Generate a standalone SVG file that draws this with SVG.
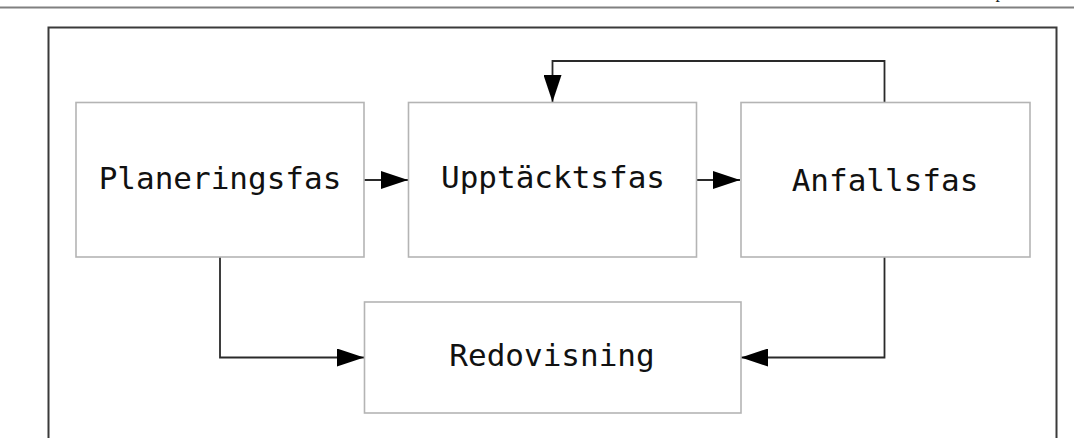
<svg xmlns="http://www.w3.org/2000/svg" width="1074" height="438" viewBox="0 0 1074 438">
<style>
.box{fill:#fff;stroke:#b4b4b4;stroke-width:1.6}
.lbl{font-family:"DejaVu Sans Mono","Liberation Mono",monospace;font-size:31px;fill:#111;text-anchor:middle}
.conn{fill:none;stroke:#2a2a2a;stroke-width:1.8}
</style>
<defs>
<marker id="ah" markerWidth="27" markerHeight="18" refX="27" refY="9" orient="auto" markerUnits="userSpaceOnUse">
<path d="M0,0 L27,9 L0,18 Z" fill="#000"/>
</marker>
</defs>
<rect width="1074" height="438" fill="#fff"/>
<line x1="0" y1="7.5" x2="1074" y2="7.5" stroke="#808080" stroke-width="2"/>
<text x="1000" y="-2" font-family="Liberation Serif,serif" font-size="18" fill="#222" text-anchor="middle">p</text>
<rect id="frame" x="48.5" y="27.5" width="1008" height="430" fill="none" stroke="#3a3a3a" stroke-width="2"/>
<g id="connectors">
<line class="conn" x1="364" y1="180" x2="408" y2="180" marker-end="url(#ah)"/>
<line class="conn" x1="697" y1="180" x2="740" y2="180" marker-end="url(#ah)"/>
<polyline class="conn" points="884.5,102 884.5,61 552.5,61 552.5,102" marker-end="url(#ah)"/>
<polyline class="conn" points="220,257 220,357.5 364,357.5" marker-end="url(#ah)"/>
<polyline class="conn" points="884.5,257 884.5,357.5 741,357.5" marker-end="url(#ah)"/>
</g>
<g id="planeringsfas">
<rect class="box" x="76" y="102.5" width="288" height="154.5"/>
<text class="lbl" x="220" y="188.5">Planeringsfas</text>
</g>
<g id="upptacktsfas">
<rect class="box" x="408.5" y="102.5" width="288" height="154.5"/>
<text class="lbl" x="553" y="187.5">Upptäcktsfas</text>
</g>
<g id="anfallsfas">
<rect class="box" x="741" y="102.5" width="289" height="154.5"/>
<text class="lbl" x="885" y="190.5">Anfallsfas</text>
</g>
<g id="redovisning">
<rect class="box" x="364.5" y="302" width="376.5" height="111"/>
<text class="lbl" x="552" y="366">Redovisning</text>
</g>
</svg>
